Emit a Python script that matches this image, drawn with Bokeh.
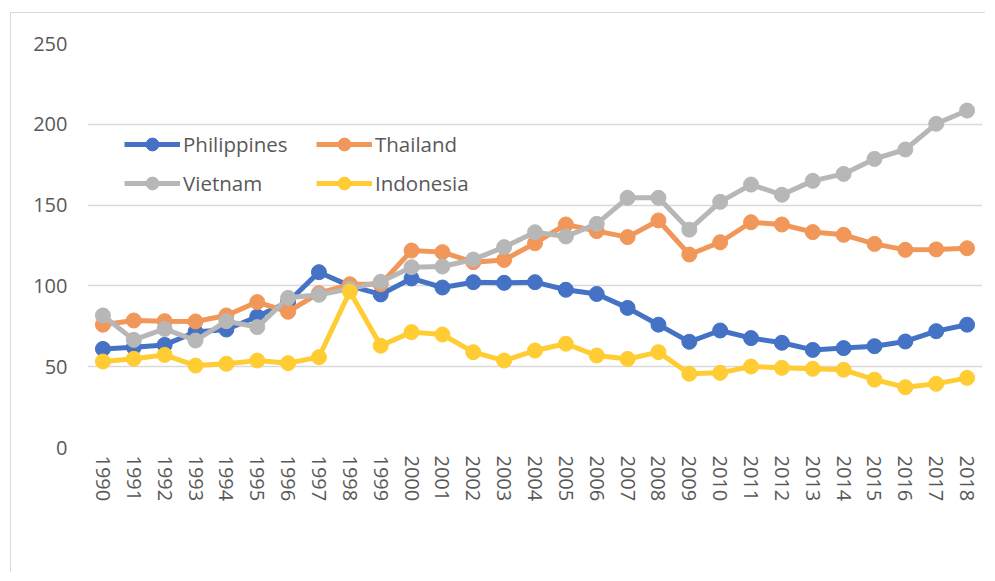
from bokeh.plotting import figure
from bokeh.models import Range1d, Legend, LegendItem, FixedTicker
from bokeh.embed import file_html
from bokeh.resources import INLINE

years = list(range(1990, 2019))
philippines = [61, 62, 63.5, 71.5, 73, 81, 90, 108.5, 100, 94.7, 104.6, 99, 102.3, 101.9, 102.3, 97.6, 95, 86.4, 76, 65.4,
               72.4, 67.7, 64.8, 60.4, 61.5, 62.7, 65.6, 72, 76]
thailand = [76, 78.6, 78.2, 78, 81.7, 90, 84, 95.5, 101, 101, 121.9, 120.9, 114.7, 116.1, 126.4, 138, 133.9, 130.2, 140.5, 119.4,
            127, 139.4, 138, 133.3, 131.6, 126, 122.3, 122.6, 123.3]
vietnam = [81.7, 66.6, 73.4, 66.2, 78.2, 74.5, 92.6, 94.5, 98.2, 102.5, 111.6, 112, 116.3, 124, 133.2, 130.6, 138.4, 154.5, 154.5, 134.8,
           152, 162.7, 156.4, 165, 169.3, 178.6, 184.4, 200.3, 208.5]
indonesia = [53.2, 54.9, 57.3, 50.7, 51.8, 53.8, 52.2, 55.9, 96.5, 63, 71.4, 69.9, 59, 53.8, 60, 64.2, 56.9, 54.8, 59, 45.6,
             46.2, 50.1, 49.3, 48.7, 48.1, 42, 37.3, 39.4, 43.1]
names = ["Philippines", "Thailand", "Vietnam", "Indonesia"]
colors = ["#4472C4", "#F1975A", "#B7B7B7", "#FFCD33"]
y_ticks = [0, 50, 100, 150, 200, 250]

FONT = "Open Sans"
TXT = "#595959"

p = figure(width=975, height=560, output_backend="svg", toolbar_location=None,
           x_range=Range1d(1989.5, 2018.5), y_range=Range1d(0, 250),
           min_border_left=76, min_border_right=4, min_border_top=30, min_border_bottom=126)
p.margin = (12, 0, 0, 10)
p.styles = {"border-left": "1px solid #d9d9d9", "border-top": "1px solid #d9d9d9"}
p.outline_line_color = None
p.background_fill_color = "white"

renderers = []
for name, vals, col in zip(names, [philippines, thailand, vietnam, indonesia], colors):
    l = p.line(years, vals, line_color=col, line_width=5)
    s = p.scatter(years, vals, size=15, fill_color=col, line_color=col)
    renderers.append((name, [l, s]))

p.xgrid.grid_line_color = None
p.ygrid.grid_line_color = "#D9D9D9"
p.ygrid.grid_line_width = 1.5
p.yaxis.ticker = FixedTicker(ticks=y_ticks)
p.xaxis.ticker = FixedTicker(ticks=years)
p.xaxis.major_label_orientation = "vertical"
for ax in (p.xaxis, p.yaxis):
    ax.axis_line_color = None
    ax.major_tick_line_color = None
    ax.minor_tick_line_color = None
    ax.major_tick_out = 0
    ax.major_tick_in = 0
    ax.major_label_text_font = FONT
    ax.major_label_text_font_size = "20px"
    ax.major_label_text_color = TXT
p.yaxis.major_label_standoff = 20
p.xaxis.major_label_standoff = 8


def make_legend(items, loc):
    lg = Legend(items=[LegendItem(label=n, renderers=r) for n, r in items], location=loc,
                orientation="vertical", glyph_width=56, glyph_height=32, label_height=32,
                spacing=7, padding=0, margin=0, label_standoff=3,
                label_text_font=FONT, label_text_font_size="20.5px", label_text_color=TXT,
                border_line_color=None, background_fill_alpha=0)
    p.add_layout(lg, "center")


make_legend([renderers[0], renderers[2]], (37, 248))
make_legend([renderers[1], renderers[3]], (229, 248))

open("out.html", "w").write(file_html(p, INLINE))
